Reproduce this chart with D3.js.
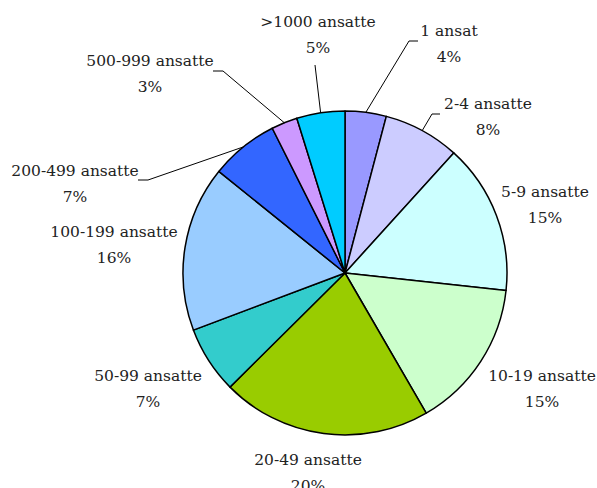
<!DOCTYPE html>
<html><head><meta charset="utf-8">
<script src="https://cdn.jsdelivr.net/npm/d3@7"></script>
<style>html,body{margin:0;padding:0;background:#fff;overflow:hidden}</style>
</head><body>
<svg id="chart" width="597" height="488"></svg>
<script>
const categories = ["1 ansat","2-4 ansatte","5-9 ansatte","10-19 ansatte","20-49 ansatte","50-99 ansatte","100-199 ansatte","200-499 ansatte","500-999 ansatte",">1000 ansatte"];
const shares = [4.1, 7.6, 15.0, 14.9, 20.9, 6.7, 16.5, 6.8, 2.6, 4.8];
const pctLabels = ["4%","8%","15%","15%","20%","7%","16%","7%","3%","5%"];
const colors = ["#9999FF","#CCCCFF","#CCFFFF","#CCFFCC","#99CC00","#33CCCC","#99CCFF","#3366FF","#CC99FF","#00CCFF"];

// label layout: text centre (first line baseline) relative to pie centre, optional leader elbow/end
const cx = 345, cy = 273, R = 162;
const layout = [
  {x:104, y:-237, leader:[[64,-232],[73,-232]]},
  {x:143, y:-164, leader:[[87,-159],[95,-159]]},
  {x:200, y:-76},
  {x:197, y:108},
  {x:-37, y:192},
  {x:-197, y:108},
  {x:-231, y:-36},
  {x:-270, y:-97, leader:[[-197,-93],[-207,-93]]},
  {x:-195, y:-207, leader:[[-122,-202],[-132,-202]]},
  {x:-27, y:-246, leader:[[-30,-208]]}
];

const svg = d3.select("#chart");
const g = svg.append("g").attr("transform", `translate(${cx},${cy})`);
const pie = d3.pie().sort(null).value(d => d)(shares);
const arc = d3.arc().innerRadius(0).outerRadius(R);

g.selectAll("path.slice").data(pie).join("path")
  .attr("class","slice")
  .attr("d", arc)
  .attr("fill", (d,i) => colors[i])
  .attr("stroke", "#000")
  .attr("stroke-width", 1.5)
  .attr("stroke-linejoin","round");

pie.forEach((d,i) => {
  const L = layout[i];
  if (L.leader) {
    const a = (d.startAngle + d.endAngle)/2;
    const pts = [[Math.sin(a)*R, -Math.cos(a)*R]].concat(L.leader);
    g.append("path").attr("d", d3.line()(pts))
      .attr("fill","none").attr("stroke","#000").attr("stroke-width",1);
  }
  const t = g.append("text").attr("text-anchor","middle")
    .style("font-family", "'DejaVu Serif'")
    .attr("font-size", 15.5).attr("fill","#222");
  t.append("tspan").attr("x", L.x).attr("y", L.y).text(categories[i]);
  t.append("tspan").attr("x", L.x).attr("y", L.y + 26).text(pctLabels[i]);
});
</script>
</body></html>
